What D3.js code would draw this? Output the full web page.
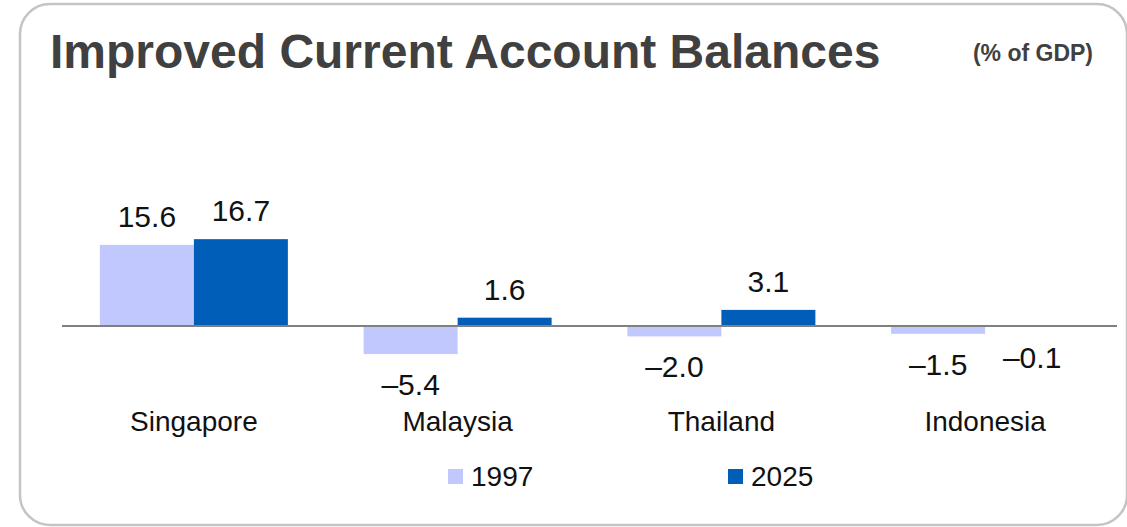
<!DOCTYPE html>
<html>
<head>
<meta charset="utf-8">
<script src="https://cdn.jsdelivr.net/npm/d3@7"></script>
<style>
  html, body { margin: 0; padding: 0; background: #fff; }
  svg { display: block; font-family: "Liberation Sans", Arial, sans-serif; }
</style>
</head>
<body>
<div id="chart"></div>
<script>
// data
var countries = ["Singapore", "Malaysia", "Thailand", "Indonesia"];
var years = ["1997", "2025"];
var values1997 = [15.6, -5.4, -2.0, -1.5];
var values2025 = [16.7, 1.6, 3.1, -0.1];
var colors = ["#c1c8fd", "#005eb8"];

var width = 1127, height = 527;

var svg = d3.select("#chart").append("svg")
    .attr("width", width)
    .attr("height", height);

// rounded frame
svg.append("rect")
    .attr("x", 20).attr("y", 4)
    .attr("width", 1107).attr("height", 521)
    .attr("rx", 30).attr("ry", 30)
    .attr("fill", "#fff")
    .attr("stroke", "#c4c4c4")
    .attr("stroke-width", 2.5);

svg.append("text")
    .attr("x", 50).attr("y", 68)
    .attr("fill", "#404040")
    .style("font-size", "48px")
    .style("font-weight", "bold")
    .text("Improved Current Account Balances");

svg.append("text")
    .attr("x", 1093).attr("y", 61)
    .attr("text-anchor", "end")
    .attr("fill", "#404040")
    .style("font-size", "23px")
    .style("font-weight", "bold")
    .text("(% of GDP)");

var x0 = d3.scaleBand().domain(countries).range([62, 1117]);
var half = 94;
var x1 = d3.scaleBand().domain(years)
    .range([x0.bandwidth() / 2 - half, x0.bandwidth() / 2 + half]);
var y = d3.scaleLinear().domain([-20, 20]).range([430, 222]);

var rows = countries.map(function(c, i) {
  return {country: c, vals: [values1997[i], values2025[i]]};
});

var groups = svg.selectAll("g.grp")
    .data(rows)
  .enter().append("g")
    .attr("class", "grp")
    .attr("transform", function(d) { return "translate(" + x0(d.country) + ",0)"; });

var bars = groups.selectAll("g.bar")
    .data(function(d) {
      return d.vals.map(function(v, j) { return {year: years[j], value: v, idx: j}; });
    })
  .enter().append("g")
    .attr("class", "bar");

bars.append("rect")
    .attr("x", function(d) { return x1(d.year); })
    .attr("width", x1.bandwidth())
    .attr("y", function(d) { return y(Math.max(0, d.value)); })
    .attr("height", function(d) { return Math.abs(y(d.value) - y(0)); })
    .attr("fill", function(d) { return colors[d.idx]; });

bars.append("text")
    .attr("x", function(d) { return x1(d.year) + x1.bandwidth() / 2; })
    .attr("y", function(d) { return d.value >= 0 ? y(d.value) - 18 : y(d.value) + 41; })
    .attr("text-anchor", "middle")
    .attr("fill", "#111")
    .style("font-size", "30px")
    .text(function(d) { return d3.format(".1f")(d.value).replace("-", "\u2013").replace("\u2212", "\u2013"); });

// zero line
svg.append("line")
    .attr("x1", 62).attr("x2", 1117)
    .attr("y1", y(0)).attr("y2", y(0))
    .attr("stroke", "#808080")
    .attr("stroke-width", 2);

// category labels
svg.selectAll("text.cat")
    .data(countries)
  .enter().append("text")
    .attr("class", "cat")
    .attr("x", function(d) { return x0(d) + x0.bandwidth() / 2; })
    .attr("y", 431)
    .attr("text-anchor", "middle")
    .attr("fill", "#111")
    .style("font-size", "28px")
    .text(function(d) { return d; });

// legend
var legendX = [448, 728];
var legend = svg.selectAll("g.leg")
    .data(years)
  .enter().append("g")
    .attr("class", "leg")
    .attr("transform", function(d, i) { return "translate(" + legendX[i] + ",469)"; });

legend.append("rect")
    .attr("width", 15).attr("height", 15)
    .attr("fill", function(d, i) { return colors[i]; });

legend.append("text")
    .attr("x", 23).attr("y", 17)
    .attr("fill", "#111")
    .style("font-size", "28px")
    .text(function(d) { return d; });
</script>
</body>
</html>
